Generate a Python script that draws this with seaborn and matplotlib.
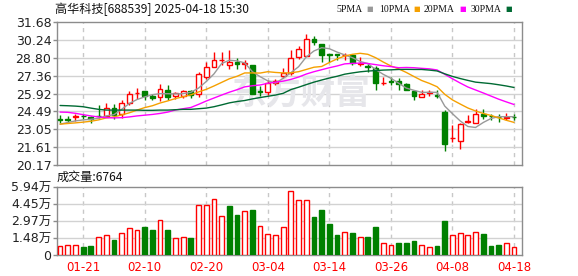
import numpy as np
import pandas as pd
import matplotlib
matplotlib.use("Agg")
import matplotlib.pyplot as plt
import seaborn as sns

# ---------------- data ----------------
dates = ["01-16", "01-17", "01-20", "01-21", "01-22", "01-23", "01-24", "01-27", "02-05", "02-06",
         "02-07", "02-10", "02-11", "02-12", "02-13", "02-14", "02-17", "02-18", "02-19", "02-20",
         "02-21", "02-24", "02-25", "02-26", "02-27", "02-28", "03-03", "03-04", "03-05", "03-06",
         "03-07", "03-10", "03-11", "03-12", "03-13", "03-14", "03-17", "03-18", "03-19", "03-20",
         "03-21", "03-24", "03-25", "03-26", "03-27", "03-28", "03-31", "04-01", "04-02", "04-03",
         "04-07", "04-08", "04-09", "04-10", "04-11", "04-14", "04-15", "04-16", "04-17", "04-18"]

open_ = [23.91, 23.85, 24.04, 24.14, 24.01, 24.14, 24.12, 24.78, 24.25, 25.17,
         25.94, 26.10, 25.73, 25.65, 26.23, 25.70, 25.70, 26.15, 25.91, 27.28,
         28.08, 28.60, 28.18, 28.47, 28.31, 28.21, 26.12, 26.02, 26.76, 27.34,
         27.60, 28.87, 28.95, 30.32, 29.92, 29.07, 29.07, 29.02, 29.05, 28.32,
         28.10, 27.94, 26.74, 26.91, 26.94, 26.68, 26.15, 25.65, 25.99, 25.77,
         24.43, 22.33, 22.14, 23.67, 23.59, 24.30, 24.14, 24.06, 23.98, 24.06]
close = [23.80, 23.78, 24.08, 24.10, 23.85, 24.10, 24.78, 24.17, 25.17, 25.91,
         25.99, 25.75, 25.57, 26.28, 25.62, 25.96, 26.15, 25.78, 27.50, 28.02,
         28.65, 28.66, 28.50, 28.26, 28.36, 25.91, 26.08, 26.81, 26.97, 27.55,
         28.81, 29.53, 30.32, 30.06, 29.00, 29.03, 29.03, 29.06, 28.39, 28.36,
         28.06, 26.81, 26.79, 26.87, 26.65, 26.18, 25.70, 25.91, 26.04, 25.73,
         21.87, 22.38, 23.46, 23.72, 24.25, 24.12, 24.10, 24.02, 24.02, 24.02]
high = [24.17, 24.12, 24.28, 24.28, 24.12, 24.96, 25.17, 25.04, 25.44, 26.10,
        26.36, 26.12, 25.91, 26.70, 26.60, 26.02, 26.23, 26.23, 27.68, 28.47,
        29.26, 29.26, 29.45, 28.81, 28.66, 28.21, 26.49, 27.02, 27.07, 27.94,
        29.40, 29.71, 30.72, 30.58, 29.92, 29.13, 29.13, 29.18, 29.08, 28.87,
        28.34, 28.13, 27.23, 27.23, 27.15, 26.76, 26.15, 26.18, 26.23, 26.23,
        24.59, 23.38, 23.59, 24.17, 24.70, 24.65, 24.25, 24.25, 24.38, 24.25]
low = [23.54, 23.54, 23.72, 23.85, 23.59, 23.96, 24.01, 23.91, 23.99, 24.96,
       25.49, 25.44, 25.44, 25.30, 25.44, 25.49, 25.57, 25.57, 25.65, 27.07,
       28.02, 28.21, 27.86, 27.86, 27.86, 25.91, 25.75, 25.83, 26.62, 27.15,
       27.42, 28.74, 28.92, 29.79, 28.47, 28.47, 28.66, 28.60, 28.21, 28.13,
       27.68, 26.18, 26.57, 26.62, 26.18, 26.18, 25.41, 25.65, 25.75, 25.57,
       21.27, 22.06, 21.43, 23.59, 23.54, 23.91, 23.80, 23.64, 23.77, 23.80]

ma5 = [23.46, 23.59, 23.72, 23.80, 23.85, 23.93, 24.12, 24.22, 24.65, 25.12,
       25.44, 25.65, 25.83, 25.91, 25.91, 25.89, 25.91, 26.02, 26.36, 26.89,
       27.50, 28.34, 28.60, 28.55, 28.39, 27.68, 27.28, 26.94, 26.76, 27.15,
       27.60, 28.08, 28.87, 29.35, 29.61, 29.53, 29.26, 29.03, 28.81, 28.50,
       28.34, 27.86, 27.47, 27.15, 26.76, 26.36, 26.18, 26.02, 26.02, 26.02,
       24.91, 24.30, 23.72, 23.27, 23.19, 23.59, 23.91, 24.06, 24.06, 24.06]
ma10 = [23.46, 23.51, 23.56, 23.62, 23.69, 23.80, 23.96, 24.04, 24.20, 24.37,
        24.59, 24.79, 24.94, 25.16, 25.33, 25.52, 25.66, 25.82, 26.05, 26.26,
        26.53, 26.82, 27.11, 27.31, 27.58, 27.58, 27.57, 27.68, 27.62, 27.58,
        27.59, 27.68, 27.86, 28.04, 28.10, 28.42, 28.71, 28.94, 29.08, 29.16,
        29.08, 28.81, 28.46, 28.14, 27.91, 27.62, 27.29, 26.97, 26.74, 26.47,
        25.86, 25.41, 25.08, 24.76, 24.52, 24.32, 24.16, 23.97, 23.77, 23.60]
ma20 = [24.43, 24.41, 24.33, 24.22, 24.12, 24.04, 23.98, 23.96, 23.98, 24.04,
        24.12, 24.18, 24.24, 24.32, 24.43, 24.60, 24.70, 24.80, 25.05, 25.32,
        25.56, 25.80, 26.03, 26.23, 26.46, 26.55, 26.61, 26.75, 26.84, 26.92,
        27.06, 27.25, 27.49, 27.68, 27.84, 28.00, 28.14, 28.31, 28.35, 28.37,
        28.34, 28.25, 28.16, 28.09, 28.00, 28.02, 28.00, 27.95, 27.91, 27.82,
        27.47, 27.11, 26.77, 26.45, 26.21, 25.97, 25.72, 25.47, 25.25, 25.04]
ma30 = [24.96, 24.94, 24.91, 24.86, 24.75, 24.65, 24.59, 24.59, 24.59, 24.59,
        24.59, 24.57, 24.57, 24.59, 24.59, 24.62, 24.65, 24.65, 24.70, 24.75,
        24.86, 25.01, 25.17, 25.28, 25.36, 25.49, 25.60, 25.70, 25.80, 25.94,
        26.24, 26.43, 26.64, 26.84, 27.01, 27.17, 27.31, 27.48, 27.58, 27.67,
        27.73, 27.77, 27.81, 27.83, 27.86, 27.87, 27.86, 27.86, 27.81, 27.74,
        27.51, 27.30, 27.13, 26.98, 26.84, 26.78, 26.72, 26.63, 26.53, 26.41]

# volume in 万 (10k shares)
volume = [0.79, 0.84, 0.84, 0.70, 0.79, 1.54, 1.72, 1.31, 1.95, 2.33,
          2.15, 2.45, 2.15, 3.03, 2.15, 1.46, 1.57, 1.49, 4.34, 4.34,
          4.86, 3.38, 4.25, 3.49, 3.81, 3.93, 2.56, 1.81, 1.72, 2.42,
          5.55, 4.78, 4.78, 3.29, 3.93, 2.68, 1.75, 1.98, 1.92, 1.54,
          1.57, 2.45, 1.02, 0.84, 1.05, 1.05, 1.19, 0.84, 0.67, 0.79,
          2.97, 1.72, 1.89, 1.72, 1.98, 1.83, 0.79, 0.87, 1.02, 0.6764]
vol_up = [1, 1, 1, 0, 0, 1, 1, 0, 1, 1,
          1, 0, 0, 1, 0, 1, 1, 0, 1, 1,
          1, 1, 0, 0, 1, 0, 1, 1, 1, 1,
          1, 1, 1, 0, 0, 0, 0, 1, 0, 1,
          0, 0, 1, 1, 0, 0, 0, 1, 1, 0,
          0, 1, 1, 1, 1, 0, 0, 0, 1, 1]

price_ticks = [20.17, 21.61, 23.05, 24.49, 25.92, 27.36, 28.80, 30.24, 31.68]
vol_ticks = [0, 1.48, 2.97, 4.45, 5.94]
vol_tick_labels = ["0", "1.48万", "2.97万", "4.45万", "5.94万"]
tick_dates = ["01-21", "02-10", "02-20", "03-04", "03-14", "03-26", "04-08", "04-18"]
title = "高华科技[688539] 2025-04-18 15:30"
ma_names = ["5PMA", "10PMA", "20PMA", "30PMA"]
ma_colors = ["#999999", "#f5a000", "#ff00ff", "#006a33"]
watermark = "东方财富"

# ---------------- style ----------------
sns.set_theme(style="white")
plt.rcParams['font.family'] = ['DejaVu Sans', 'Noto Sans CJK SC']

RED = "#ff0000"
GREEN = "#008000"
GRID = "#d2d2d2"
SPINE = "#8c8c8c"

df = pd.DataFrame({"idx": np.arange(len(dates)), "date": dates, "open": open_, "close": close,
                   "high": high, "low": low, "ma5": ma5, "ma10": ma10, "ma20": ma20,
                   "ma30": ma30, "vol": volume, "vup": vol_up})

W, H = 578, 276
fig = plt.figure(figsize=(W / 100, H / 100), dpi=100)
fig.patch.set_facecolor("white")
L, R = 57, 522
ax = fig.add_axes([L / W, 1 - 165 / H, (R - L) / W, (165 - 22) / H])
axv = fig.add_axes([L / W, 1 - 255 / H, (R - L) / W, (255 - 187) / H])

tick_pos = [dates.index(d) for d in tick_dates]
x = df["idx"].to_numpy()
xlim = (-0.4, 60.04)

for a in (ax, axv):
    a.set_facecolor("white")
    a.set_xlim(*xlim)
    for s in a.spines.values():
        s.set_color(SPINE)
        s.set_linewidth(1)
        s.set_visible(True)
    for p in tick_pos:
        a.axvline(p, color="#c8c8c8", lw=1, ls=(0, (3, 3)), zorder=0)

# ---------------- price panel ----------------
ax.set_ylim(price_ticks[0], price_ticks[-1])
for t in price_ticks[1:-1]:
    ax.axhline(t, color=GRID, lw=1, zorder=0)
ax.set_yticks(price_ticks)
ax.set_yticklabels([f"{t:.2f}" for t in price_ticks])
ax.set_xticks(tick_pos)
ax.tick_params(axis="x", length=0, labelbottom=False)
ax.tick_params(axis="y", length=3, width=1, color=SPINE, pad=1, labelsize=9,
               labelcolor="#222222", left=True)

ax.text(0.525, 0.50, watermark, transform=ax.transAxes, ha="center", va="center",
        fontsize=25, color="#e6e6ea", fontweight="bold", family=["Noto Sans CJK SC"], zorder=0)

up = df["close"] >= df["open"]
cols = np.where(up, RED, GREEN)
ax.vlines(x, df["low"], df["high"], colors=cols, lw=1, zorder=2)
body_bottom = np.minimum(df["open"], df["close"])
body_h = np.maximum(np.abs(df["close"] - df["open"]), 0.015)
ax.bar(x, body_h, bottom=body_bottom, width=0.62,
       facecolor=np.where(up, "white", GREEN), edgecolor=cols, linewidth=1, zorder=3)

for col, c in zip(["ma5", "ma10", "ma20", "ma30"], ma_colors):
    sns.lineplot(data=df, x="idx", y=col, ax=ax, color=c, lw=1, zorder=4)
ax.set_xlabel("")
ax.set_ylabel("")

# ---------------- volume panel ----------------
axv.set_ylim(0, vol_ticks[-1])
for t in vol_ticks[1:-1]:
    axv.axhline(t, color=GRID, lw=1, zorder=0)
vup = df["vup"].to_numpy() == 1
axv.bar(x, df["vol"], width=0.62, facecolor=np.where(vup, "white", GREEN),
        edgecolor=np.where(vup, RED, GREEN), linewidth=1, zorder=3)
axv.set_yticks(vol_ticks)
axv.set_yticklabels(vol_tick_labels)
axv.set_xticks(tick_pos)
axv.set_xticklabels(tick_dates)
axv.tick_params(axis="x", length=0, pad=4, labelsize=8.5, labelcolor=RED)
axv.tick_params(axis="y", length=3, width=1, color=SPINE, pad=1, labelsize=9,
                labelcolor="#222222", left=True)

# ---------------- texts ----------------
fig.text(55 / W, 1 - 9 / H, title, ha="left", va="center", fontsize=8.7,
         color="#111111", family=["Noto Sans CJK SC", "DejaVu Sans"])
fig.text(57 / W, 1 - 177 / H, f"成交量:{volume[-1] * 10000:.0f}", ha="left", va="center",
         fontsize=8.7, color="#111111", family=["Noto Sans CJK SC", "DejaVu Sans"])

text_end = [363, 410, 455, 501]
sq = [366, 413, 459, 505]
for name, c, te, sx in zip(ma_names, ma_colors, text_end, sq):
    fig.text(te / W, 1 - 9 / H, name, ha="right", va="center", fontsize=7,
             color="#111111", family=["Liberation Serif"])
    fig.text(sx / W, 1 - 9 / H, "■", ha="left", va="center", fontsize=5, color=c)

fig.savefig("out.png", dpi=100, facecolor="white")
